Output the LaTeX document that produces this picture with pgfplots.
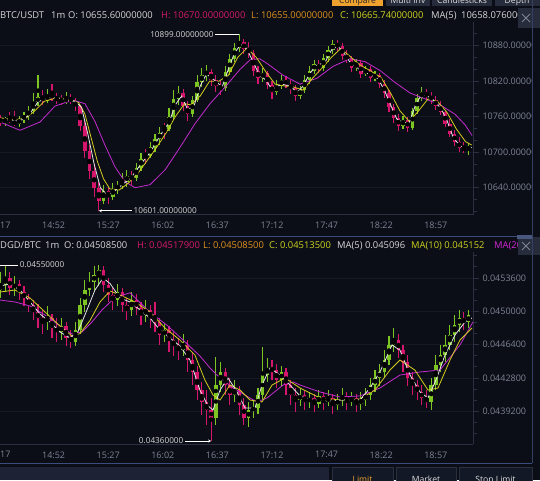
\documentclass[border=0pt]{standalone}
\usepackage{fontspec}
\setmainfont{Open Sans}
\usepackage{pgfplots}
\pgfplotsset{compat=1.18}
\usepackage{pgfplotstable}
\usetikzlibrary{arrows.meta}

\definecolor{bg}{HTML}{0B0E17}
\definecolor{gridc}{HTML}{151A25}
\definecolor{axisc}{HTML}{2A303F}
\definecolor{lblc}{HTML}{7E8494}
\definecolor{cgreen}{HTML}{7CC522}
\definecolor{cpink}{HTML}{D6156C}
\definecolor{mawhite}{HTML}{E6E6E6}
\definecolor{mayellow}{HTML}{D4CC1E}
\definecolor{mamag}{HTML}{C42BCF}
\definecolor{hdrw}{HTML}{D8D8D8}
\definecolor{hdrpink}{HTML}{D8186A}
\definecolor{hdrorange}{HTML}{E0921C}
\definecolor{hdryellow}{HTML}{CFD41E}
\definecolor{hdrmag}{HTML}{D626D6}
\definecolor{frameblue}{HTML}{3B4C7C}
\definecolor{tabgrey}{HTML}{262C3B}
\definecolor{taborange}{HTML}{F0A22E}
\definecolor{panelc}{HTML}{1D2335}
\definecolor{btnc}{HTML}{131826}

\pgfplotstableread{
t o h l c
18 10756 10763 10744 10751
21 10751 10760 10745 10757
24 10757 10768 10750 10752
27 10752 10770 10744 10748
30 10748 10762 10742 10756
33 10756 10768 10750 10761
36 10761 10778 10755 10770
39 10770 10800 10764 10784
42 10784 10830 10778 10793
45 10793 10805 10780 10787
48 10787 10806 10783 10797
51 10797 10815 10786 10792
54 10792 10800 10782 10788
57 10788 10797 10780 10785
60 10785 10802 10781 10791
63 10791 10798 10781 10786
66 10786 10792 10770 10778
69 10778 10780 10735 10745
72 10745 10752 10690 10702
75 10702 10712 10655 10668
78 10668 10680 10625 10640
81 10640 10650 10601 10618
84 10618 10645 10612 10634
87 10634 10642 10612 10625
90 10625 10648 10620 10638
93 10638 10652 10630 10644
96 10644 10665 10638 10650
99 10650 10670 10642 10660
102 10660 10668 10645 10656
105 10656 10682 10652 10674
108 10674 10698 10668 10688
111 10698 10705 10680 10694
114 10694 10718 10690 10708
117 10708 10730 10700 10722
120 10722 10742 10712 10733
123 10744 10750 10722 10740
126 10740 10775 10736 10760
129 10760 10805 10755 10790
132 10790 10812 10780 10800
135 10800 10806 10770 10778
138 10778 10786 10752 10764
141 10764 10795 10760 10788
144 10788 10830 10784 10818
147 10818 10842 10810 10830
150 10830 10848 10820 10836
153 10836 10840 10812 10822
156 10822 10830 10802 10812
159 10812 10820 10796 10808
162 10808 10845 10804 10836
165 10836 10866 10830 10858
168 10858 10885 10852 10876
171 10876 10899 10870 10886
174 10886 10892 10866 10874
177 10874 10886 10860 10868
180 10868 10872 10828 10838
183 10838 10846 10815 10826
186 10826 10842 10818 10833
189 10833 10838 10806 10814
192 10814 10820 10790 10801
195 10801 10822 10796 10812
198 10812 10830 10806 10822
201 10822 10828 10808 10815
204 10815 10822 10798 10808
207 10808 10814 10786 10795
210 10795 10812 10790 10805
213 10805 10830 10800 10822
216 10822 10845 10816 10838
219 10838 10856 10832 10849
222 10849 10855 10834 10842
225 10842 10866 10838 10859
228 10859 10880 10852 10873
231 10873 10889 10866 10883
234 10883 10890 10870 10879
237 10879 10884 10856 10863
240 10863 10872 10850 10857
243 10857 10862 10836 10842
246 10842 10858 10838 10850
249 10850 10855 10826 10832
252 10832 10846 10828 10840
255 10840 10845 10818 10825
258 10825 10838 10820 10830
261 10830 10834 10808 10816
264 10816 10822 10792 10800
267 10800 10805 10768 10776
270 10776 10782 10750 10758
273 10758 10765 10736 10744
276 10744 10762 10740 10754
279 10754 10760 10734 10741
282 10741 10775 10738 10770
285 10770 10798 10765 10792
288 10792 10810 10786 10801
291 10801 10806 10788 10795
294 10795 10802 10782 10788
297 10788 10795 10772 10778
300 10778 10786 10762 10768
303 10768 10772 10742 10748
306 10748 10756 10725 10731
309 10731 10738 10710 10717
312 10717 10726 10700 10707
315 10707 10718 10698 10704
318 10704 10716 10696 10710
}\btc

\pgfplotstableread{
t o h l c
18 0.045230 0.045425 0.045144 0.045284
21 0.045284 0.045500 0.045209 0.045360
24 0.045360 0.045425 0.045176 0.045252
27 0.045252 0.045382 0.045166 0.045295
30 0.045295 0.045338 0.045122 0.045209
33 0.045209 0.045274 0.045058 0.045144
36 0.045144 0.045187 0.044993 0.045068
39 0.045068 0.045122 0.044906 0.044993
42 0.044993 0.045079 0.044820 0.044928
45 0.044928 0.045014 0.044755 0.044885
48 0.044885 0.045058 0.044798 0.044928
51 0.044928 0.044971 0.044712 0.044820
54 0.044820 0.044928 0.044669 0.044777
57 0.044777 0.044928 0.044690 0.044842
60 0.044842 0.044885 0.044626 0.044712
63 0.044712 0.044798 0.044604 0.044669
66 0.044669 0.044885 0.044626 0.044798
69 0.044798 0.045144 0.044755 0.045068
72 0.045068 0.045338 0.044993 0.045230
75 0.045230 0.045425 0.045166 0.045317
78 0.045317 0.045490 0.045230 0.045392
81 0.045392 0.045500 0.045274 0.045446
84 0.045446 0.045490 0.045209 0.045284
87 0.045284 0.045360 0.045101 0.045176
90 0.045176 0.045252 0.045014 0.045122
93 0.045122 0.045295 0.045058 0.045209
96 0.045209 0.045252 0.044993 0.045068
99 0.045068 0.045144 0.044906 0.045014
102 0.045014 0.045209 0.044950 0.045122
105 0.045122 0.045187 0.044960 0.045036
108 0.045036 0.045101 0.044852 0.044960
111 0.044960 0.045122 0.044885 0.045014
114 0.045014 0.045068 0.044820 0.044928
117 0.044928 0.045101 0.044777 0.044885
120 0.044885 0.044928 0.044636 0.044744
123 0.044744 0.044863 0.044669 0.044798
126 0.044798 0.044842 0.044561 0.044690
129 0.044690 0.044777 0.044518 0.044636
132 0.044636 0.044712 0.044474 0.044582
135 0.044582 0.044755 0.044518 0.044636
138 0.044636 0.044690 0.044345 0.044474
141 0.044474 0.044561 0.044204 0.044345
144 0.044345 0.044410 0.044042 0.044150
147 0.044150 0.044237 0.043880 0.044021
150 0.044021 0.044150 0.043772 0.043934
153 0.043934 0.044064 0.043600 0.043848
156 0.043848 0.044507 0.043772 0.044204
159 0.044204 0.044453 0.044129 0.044345
162 0.044345 0.044388 0.044096 0.044204
165 0.044204 0.044280 0.043988 0.044096
168 0.044096 0.044258 0.044021 0.044150
171 0.044150 0.044194 0.043880 0.043988
174 0.043988 0.044064 0.043772 0.043848
177 0.043848 0.044021 0.043751 0.043934
180 0.043934 0.044042 0.043848 0.043956
183 0.043956 0.044172 0.043891 0.044096
186 0.044096 0.044615 0.044042 0.044312
189 0.044312 0.044496 0.044237 0.044388
192 0.044388 0.044474 0.044258 0.044366
195 0.044366 0.044431 0.044172 0.044258
198 0.044258 0.044410 0.044194 0.044345
201 0.044345 0.044388 0.044096 0.044204
204 0.044204 0.044258 0.043988 0.044096
207 0.044096 0.044172 0.043913 0.044042
210 0.044042 0.044172 0.043978 0.044096
213 0.044096 0.044150 0.043934 0.044021
216 0.044021 0.044129 0.043956 0.044064
219 0.044064 0.044107 0.043913 0.043999
222 0.043999 0.044150 0.043956 0.044086
225 0.044086 0.044129 0.043934 0.044021
228 0.044021 0.044150 0.043978 0.044064
231 0.044064 0.044107 0.043891 0.043988
234 0.043988 0.044107 0.043934 0.044042
237 0.044042 0.044172 0.043978 0.044086
240 0.044086 0.044129 0.043934 0.044021
243 0.044021 0.044129 0.043978 0.044064
246 0.044064 0.044107 0.043913 0.043999
249 0.043999 0.044129 0.043934 0.044042
252 0.044042 0.044172 0.043978 0.044096
255 0.044096 0.044280 0.044042 0.044204
258 0.044204 0.044366 0.044129 0.044280
261 0.044280 0.044431 0.044194 0.044345
264 0.044345 0.044582 0.044280 0.044474
267 0.044474 0.044734 0.044420 0.044636
270 0.044636 0.044820 0.044561 0.044690
273 0.044690 0.044755 0.044496 0.044582
276 0.044582 0.044636 0.044345 0.044453
279 0.044453 0.044528 0.044194 0.044280
282 0.044280 0.044345 0.044096 0.044204
285 0.044204 0.044258 0.044042 0.044129
288 0.044129 0.044204 0.043988 0.044064
291 0.044064 0.044150 0.043956 0.044021
294 0.044021 0.044280 0.043934 0.044204
297 0.044204 0.044528 0.044150 0.044420
300 0.044420 0.044636 0.044345 0.044528
303 0.044528 0.044744 0.044453 0.044636
306 0.044636 0.044852 0.044582 0.044744
309 0.044744 0.044960 0.044669 0.044852
312 0.044852 0.045014 0.044777 0.044928
315 0.044928 0.044993 0.044798 0.044885
318 0.044885 0.045014 0.044820 0.044960
}\dgd

\tikzset{annot/.style={font=\fontsize{8.2}{9}\selectfont, text=hdrw, inner sep=1.5pt}}

\pgfplotsset{
  cwick/.style={only marks, mark=none, forget plot,
    /pgfplots/error bars/y dir=both, /pgfplots/error bars/y explicit,
    /pgfplots/error bars/error mark=none,
    /pgfplots/error bars/error bar style={line width=1.1pt, draw=#1}},
  cbody/.style={only marks, mark=none, forget plot,
    /pgfplots/error bars/y dir=both, /pgfplots/error bars/y explicit,
    /pgfplots/error bars/error mark=none,
    /pgfplots/error bars/error bar style={line width=3.4pt, draw=#1}},
  maline/.style={no markers, line width=0.8pt, color=#1, forget plot},
  cpanel/.style={
    scale only axis, width=493pt, xmin=4.82, xmax=320.85,
    axis x line*=bottom, axis y line*=right,
    axis line style={draw=axisc, line width=0.8pt, -},
    xtick={17,52,87,122,157,192,227,262,297},
    xticklabels={14:17,14:52,15:27,16:02,16:37,17:12,17:47,18:22,18:57},
    xtick style={draw=none},
    tick align=outside,
    major tick length=6pt, minor tick length=4pt,
    ytick style={draw=axisc, line width=0.8pt},
    ymajorgrids, major grid style={draw=gridc, line width=0.6pt},
    ticklabel style={font=\fontsize{9}{10}\selectfont, text=lblc},
    xticklabel style={yshift=2pt},
    scaled y ticks=false,
    /pgf/number format/assume math mode=true,
    axis background/.style={fill=bg},
  },
}

\begin{document}
\begin{tikzpicture}[x=1pt,y=1pt]
\useasboundingbox (0,0) rectangle (540,480);
\clip (0,0) rectangle (540,480);
\fill[bg] (0,0) rectangle (540,480);

\begin{scope}
\clip (0,0) rectangle (531.5,480);
% ---------------- top panel: BTC/USDT
\begin{axis}[cpanel, at={(-20pt,265.2pt)}, anchor=south west, height=192.8pt,
  ymin=10594.2, ymax=10920,
  ytick={10640,10700,10760,10820,10880},
  minor ytick={10600,10620,10660,10680,10720,10740,10780,10800,10840,10860,10900},
  yticklabel style={/pgf/number format/.cd, fixed, fixed zerofill, precision=8, 1000 sep={}},
]
\addplot[cwick=cgreen, restrict expr to domain={\thisrow{c}-\thisrow{o}}{0:100000}]
  table[x=t, y expr={0.5*(\thisrow{h}+\thisrow{l})}, y error expr={0.5*(\thisrow{h}-\thisrow{l})}] {\btc};
\addplot[cwick=cpink, restrict expr to domain={\thisrow{c}-\thisrow{o}}{-100000:-0.001}]
  table[x=t, y expr={0.5*(\thisrow{h}+\thisrow{l})}, y error expr={0.5*(\thisrow{h}-\thisrow{l})}] {\btc};
\addplot[cbody=cgreen, restrict expr to domain={\thisrow{c}-\thisrow{o}}{0:100000}]
  table[x=t, y expr={0.5*(\thisrow{o}+\thisrow{c})}, y error expr={0.5*abs(\thisrow{c}-\thisrow{o})}] {\btc};
\addplot[cbody=cpink, restrict expr to domain={\thisrow{c}-\thisrow{o}}{-100000:-0.001}]
  table[x=t, y expr={0.5*(\thisrow{o}+\thisrow{c})}, y error expr={0.5*abs(\thisrow{c}-\thisrow{o})}] {\btc};
% MA(20)
\addplot[maline=mamag] coordinates {(17.6,10751) (30.5,10737) (43.3,10751) (52.9,10778) (64.4,10788) (72.1,10782) (78.5,10752) (84.9,10712) (91.4,10675) (97.8,10650) (104.2,10640) (113.8,10645) (123.4,10670) (133,10708) (142.6,10748) (152.3,10782) (161.9,10810) (171.5,10840) (177.9,10856) (184,10858) (188.8,10850) (199.1,10830) (210,10815) (220.9,10825) (231.1,10845) (242,10858) (251.6,10853) (261.3,10838) (270.8,10818) (280.5,10800) (290.2,10790) (299.8,10780) (309.4,10764) (315.8,10746) (320.3,10728)};
% MA(10)
\addplot[maline=mayellow] coordinates {(18,10758) (26,10755) (34,10757) (40,10770) (46,10786) (54,10792) (62,10789) (68,10784) (72,10765) (76,10725) (80,10685) (84,10655) (88,10638) (94,10636) (100,10648) (106,10664) (112,10686) (118,10708) (124,10732) (130,10760) (136,10782) (140,10780) (146,10795) (152,10820) (158,10820) (164,10830) (170,10860) (176,10876) (182,10860) (188,10836) (194,10815) (200,10812) (206,10810) (212,10805) (218,10825) (224,10842) (230,10860) (236,10875) (242,10862) (248,10848) (256,10836) (262,10826) (268,10800) (274,10770) (280,10752) (286,10770) (292,10790) (298,10786) (304,10768) (310,10740) (316,10718) (320,10712)};
% MA(5)
\addplot[maline=mawhite] coordinates {(18,10752) (24,10755) (30,10752) (36,10762) (42,10785) (48,10792) (54,10792) (60,10788) (66,10786) (70,10775) (74,10730) (78,10680) (82,10640) (86,10628) (90,10632) (96,10645) (102,10658) (108,10680) (114,10700) (120,10727) (126,10750) (130,10780) (134,10795) (138,10772) (142,10778) (146,10812) (150,10832) (156,10820) (160,10810) (164,10840) (168,10868) (172,10882) (176,10874) (180,10852) (184,10830) (188,10822) (192,10806) (198,10815) (204,10812) (208,10800) (212,10812) (216,10832) (220,10846) (226,10852) (230,10872) (234,10880) (238,10868) (242,10852) (248,10840) (254,10832) (260,10824) (264,10805) (268,10780) (272,10756) (276,10750) (280,10750) (284,10780) (288,10798) (294,10792) (300,10775) (304,10755) (308,10726) (312,10712) (316,10706) (320,10708)};
\draw[white, line width=0.6pt] (axis cs:171,10899) -- ([xshift=-24pt]axis cs:171,10899) node[annot, anchor=east] {10899.00000000};
\draw[white, line width=0.6pt, {Stealth[length=3pt,width=3pt]}-] (axis cs:81,10601) -- ([xshift=33pt]axis cs:81,10601) node[annot, anchor=west] {10601.00000000};
\end{axis}

% ---------------- bottom panel: DGD/BTC
\begin{axis}[cpanel, at={(-20pt,36pt)}, anchor=south west, height=192pt,
  ymin=0.0435672, ymax=0.0456408,
  ytick={0.04392,0.04428,0.04464,0.045,0.04536},
  minor ytick={0.04368,0.0438,0.04404,0.04416,0.0444,0.04452,0.04476,0.04488,0.04512,0.04524,0.04548,0.0456},
  yticklabel style={/pgf/number format/.cd, fixed, fixed zerofill, precision=7},
]
\addplot[cwick=cgreen, restrict expr to domain={\thisrow{c}-\thisrow{o}}{0:1}]
  table[x=t, y expr={0.5*(\thisrow{h}+\thisrow{l})}, y error expr={0.5*(\thisrow{h}-\thisrow{l})}] {\dgd};
\addplot[cwick=cpink, restrict expr to domain={\thisrow{c}-\thisrow{o}}{-1:-0.0000000001}]
  table[x=t, y expr={0.5*(\thisrow{h}+\thisrow{l})}, y error expr={0.5*(\thisrow{h}-\thisrow{l})}] {\dgd};
\addplot[cbody=cgreen, restrict expr to domain={\thisrow{c}-\thisrow{o}}{0:1}]
  table[x=t, y expr={0.5*(\thisrow{o}+\thisrow{c})}, y error expr={0.5*abs(\thisrow{c}-\thisrow{o})}] {\dgd};
\addplot[cbody=cpink, restrict expr to domain={\thisrow{c}-\thisrow{o}}{-1:-0.0000000001}]
  table[x=t, y expr={0.5*(\thisrow{o}+\thisrow{c})}, y error expr={0.5*abs(\thisrow{c}-\thisrow{o})}] {\dgd};
% MA(20)
\addplot[maline=mamag] coordinates {(17.6,0.045122) (27.3,0.045101) (36.9,0.045058) (46.5,0.044960) (56.1,0.044842) (63.8,0.044755) (70.2,0.044777) (76.6,0.044885) (83,0.045014) (91.4,0.045150) (101,0.045200) (113.8,0.044990) (124.7,0.044850) (135,0.044690) (145.8,0.044518) (152.3,0.044388) (156.7,0.044312) (167,0.044172) (177.9,0.044064) (182.4,0.044021) (188.8,0.044064) (199.1,0.044204) (205.5,0.044237) (210,0.044204) (222.8,0.044129) (235.6,0.044075) (248.4,0.044086) (261.2,0.044172) (274,0.044312) (286.9,0.044345) (299.7,0.044366) (312.5,0.044636) (320.8,0.044885)};
% MA(10)
\addplot[maline=mayellow] coordinates {(17.6,0.045209) (27.3,0.045230) (36.9,0.045144) (46.5,0.044993) (56.1,0.044842) (63.8,0.044734) (68.9,0.044760) (75.3,0.044900) (81.7,0.045100) (88.2,0.045220) (94.6,0.045176) (104.2,0.045101) (113.8,0.044993) (123.4,0.044820) (133,0.044690) (142.6,0.044528) (149,0.044258) (154.2,0.044096) (158.7,0.044042) (165.1,0.044204) (171.5,0.044150) (177.9,0.044042) (185.6,0.044021) (192,0.044204) (200.3,0.044280) (210,0.044172) (222.8,0.044064) (235.6,0.044042) (248.4,0.044053) (258,0.044150) (267.6,0.044366) (274,0.044474) (283.6,0.044366) (292,0.044150) (298.4,0.044172) (306.1,0.044474) (312.5,0.044690) (320.2,0.044820)};
% MA(5)
\addplot[maline=mawhite] coordinates {(17.6,0.045274) (24.1,0.045295) (30.5,0.045230) (36.9,0.045101) (43.3,0.044971) (49.7,0.044885) (56.1,0.044777) (62.5,0.044712) (67.6,0.044780) (72.8,0.044990) (78.5,0.045230) (83.7,0.045360) (88.2,0.045300) (94.6,0.045144) (101,0.045101) (107.4,0.045014) (113.8,0.044928) (120.2,0.044798) (126.6,0.044712) (133,0.044626) (139.4,0.044474) (145.8,0.044150) (151,0.043978) (154.2,0.043934) (158.7,0.044150) (163.8,0.044280) (168.9,0.044150) (174.7,0.043956) (181.1,0.043956) (185.6,0.044204) (190.7,0.044388) (197.1,0.044312) (203.5,0.044204) (210,0.044086) (216.4,0.044042) (222.8,0.044042) (229.2,0.044032) (235.6,0.044042) (242,0.044042) (248.4,0.044042) (254.8,0.044172) (261.2,0.044345) (268.9,0.044636) (274,0.044582) (280.5,0.044312) (286.9,0.044129) (292,0.044064) (297.1,0.044258) (302.9,0.044528) (309.3,0.044744) (315.7,0.044885) (320.2,0.044928)};
\draw[white, line width=0.6pt] (axis cs:17.64,0.0455) -- (axis cs:29.2,0.0455) node[annot, anchor=west] {0.04550000};
\draw[white, line width=0.6pt, -{Stealth[length=3pt,width=3pt]}] ([xshift=-26pt]axis cs:153,0.0436) node[annot, anchor=east] {0.04360000} -- (axis cs:153,0.0436);
\end{axis}
\end{scope}

% ---------------- headers
\begin{scope}[every node/.style={inner sep=0pt, anchor=base west, font=\fontsize{9.4}{11}\selectfont}]
\node[text=hdrw] at (0,461) {BTC/USDT};
\node[text=hdrw] at (51,461) {1m};
\node[text=hdrw] at (68,461) {O: 10655.60000000};
\node[text=hdrpink] at (161,461) {H: 10670.00000000};
\node[text=hdrorange] at (251,461) {L: 10655.00000000};
\node[text=hdryellow] at (340,461) {C: 10665.74000000};
\node[text=hdrw] at (431,461) {MA(5)};
\node[text=hdrw] at (461,461) {10658.07600000};
\node[text=hdrw] at (0,231.5) {DGD/BTC};
\node[text=hdrw] at (45,231.5) {1m};
\node[text=hdrw] at (64,231.5) {O: 0.04508500};
\node[text=hdrpink] at (137,231.5) {H: 0.04517900};
\node[text=hdrorange] at (203,231.5) {L: 0.04508500};
\node[text=hdryellow] at (269,231.5) {C: 0.04513500};
\node[text=hdrw] at (337,231.5) {MA(5) 0.045096};
\node[text=hdryellow] at (411,231.5) {MA(10) 0.045152};
\node[text=hdrmag] at (494,231.5) {MA(20) 0.045215};
\end{scope}

% close boxes
\fill[tabgrey] (518,452) rectangle (540,472);
\draw[lblc, line width=0.9pt] (522,458) -- (530,466) (522,466) -- (530,458);
\fill[tabgrey] (518,225) rectangle (540,243);
\draw[lblc, line width=0.9pt] (522,230) -- (530,238) (522,238) -- (530,230);

% top tabs
\fill[taborange] (332,474) rectangle (383,480);
\fill[tabgrey] (386,474) rectangle (430,480);
\fill[tabgrey] (432,474) rectangle (492,480);
\fill[tabgrey] (495,474) rectangle (540,480);
\begin{scope}[every node/.style={inner sep=0pt, anchor=base, font=\fontsize{8.6}{10}\selectfont}]
\node[text=black!85] at (357.5,476.5) {Compare};
\node[text=hdrw!85] at (408,476.5) {Multi Inv};
\node[text=hdrw!85] at (462,476.5) {Candlesticks};
\node[text=hdrw!85] at (517,476.5) {Depth};
\end{scope}

% frame lines
\draw[frameblue, line width=1.2pt] (0,243.5) -- (517,243.5);
\fill[frameblue!80!gray] (517,241.5) rectangle (532,245.5);
\draw[frameblue, line width=1.2pt] (0,16.6) -- (532,16.6);
\draw[frameblue!60!axisc, line width=1pt] (532,16.6) -- (532,480);

% bottom order buttons
\fill[panelc] (0,0) rectangle (329,13.3);
\filldraw[fill=btnc, draw=axisc] (332,-1) rectangle (393,13.3);
\filldraw[fill=btnc, draw=axisc] (396,-1) rectangle (456,13.3);
\filldraw[fill=btnc, draw=axisc] (459,-1) rectangle (532,13.3);
\begin{scope}[every node/.style={inner sep=0pt, anchor=base, font=\fontsize{8.6}{10}\selectfont}]
\node[text=taborange] at (362.5,-2.3) {Limit};
\node[text=hdrw!85] at (426,-2.3) {Market};
\node[text=hdrw!85] at (495.5,-2.3) {Stop Limit};
\end{scope}
\end{tikzpicture}
\end{document}
